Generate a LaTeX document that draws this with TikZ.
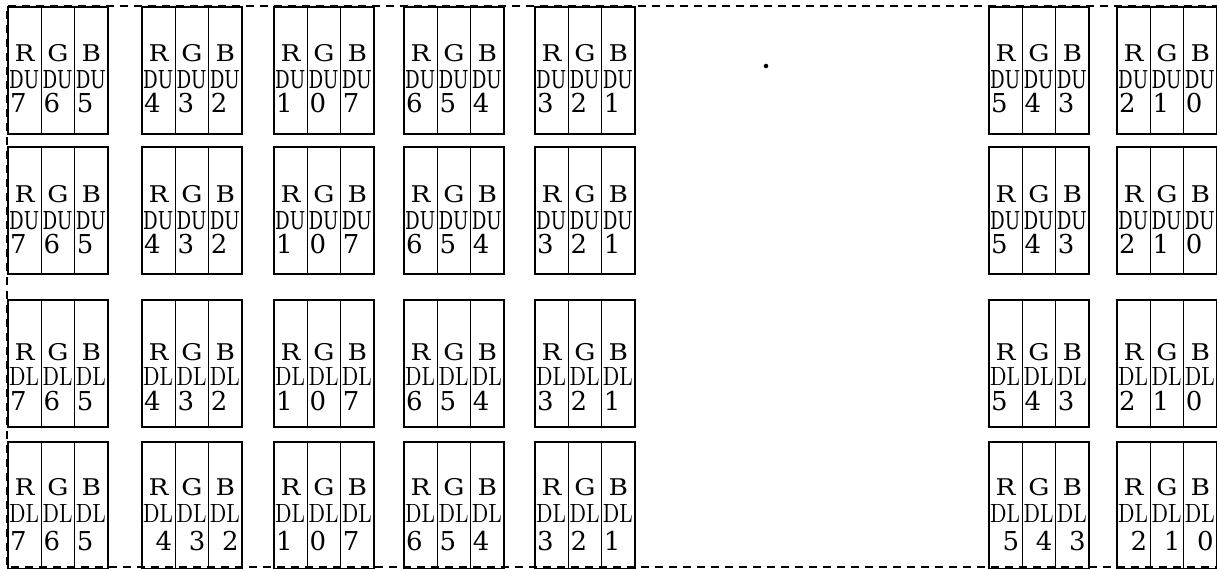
\documentclass[tikz,border=0pt]{standalone}
\usepackage{graphicx}
\usepackage{fontspec}
\newfontfamily\lblfont{DejaVu Serif}
\newfontfamily\lblcond{DejaVu Serif Condensed}
\tikzset{
  x=1pt, y=-1pt,
  subbox/.style={draw, line width=1.3pt, minimum width=33.3pt, minimum height=127pt,
    anchor=north west, inner sep=0pt, outer sep=0pt},
  rgb/.style={anchor=base, inner sep=0pt, font=\lblfont\fontsize{23}{23}\selectfont},
  dul/.style={anchor=base west, inner sep=0pt},
  digl/.style={anchor=base west, inner sep=0pt, font=\lblfont\fontsize{26}{26}\selectfont},
  digr/.style={anchor=base east, inner sep=0pt, font=\lblfont\fontsize{26}{26}\selectfont},
  border/.style={line width=1.2pt, dash pattern=on 8pt off 6pt},
}
\begin{document}
\begin{tikzpicture}
\useasboundingbox (0,0) rectangle (1217,569);
\fill[white] (0,0) rectangle (1217,569);
\draw[border] (1220,6) -- (7,6) -- (7,567) -- (1220,567);
\foreach \row/\yy/\kind/\kf/\rb/\db/\nb in {1/7/DU/\lblcond/55/82/106, 2/147/DU/\lblcond/56/83/107, 3/300/DL/\rmfamily/60/85/110, 4/442/DL/\rmfamily/53/80/108}{
  \foreach \g/\gx/\da/\dbb/\dc/\ra in {1/8/7/6/5/0, 2/142/4/3/2/1, 3/274/1/0/7/0, 4/404/6/5/4/0, 5/535/3/2/1/0, 6/989/5/4/3/1, 7/1117/2/1/0/1}{
    \foreach \k/\L/\dig in {0/R/\da, 1/G/\dbb, 2/B/\dc}{
      \node[subbox] (s\row-\g-\k) at ({\gx+33.3*\k},\yy) {};
      \node[rgb] (c\row-\g-\k) at ([yshift=-\rb pt]s\row-\g-\k.north) {\scalebox{1.15}[1]{\L}};
      \node[dul] (t\row-\g-\k) at ([xshift=1pt,yshift=-\db pt]s\row-\g-\k.north west) {\resizebox{30pt}{18pt}{\kf\kind}};
      \ifnum\numexpr\row*10+\ra\relax=41
        \node[digr] (n\row-\g-\k) at ([xshift=-3pt,yshift=-\nb pt]s\row-\g-\k.north east) {\dig};
      \else
        \node[digl] (n\row-\g-\k) at ([xshift=2pt,yshift=-\nb pt]s\row-\g-\k.north west) {\dig};
      \fi
    }
  }
}
\node[circle, fill, inner sep=1.6pt] (dot) at (766,66) {};
\end{tikzpicture}
\end{document}
